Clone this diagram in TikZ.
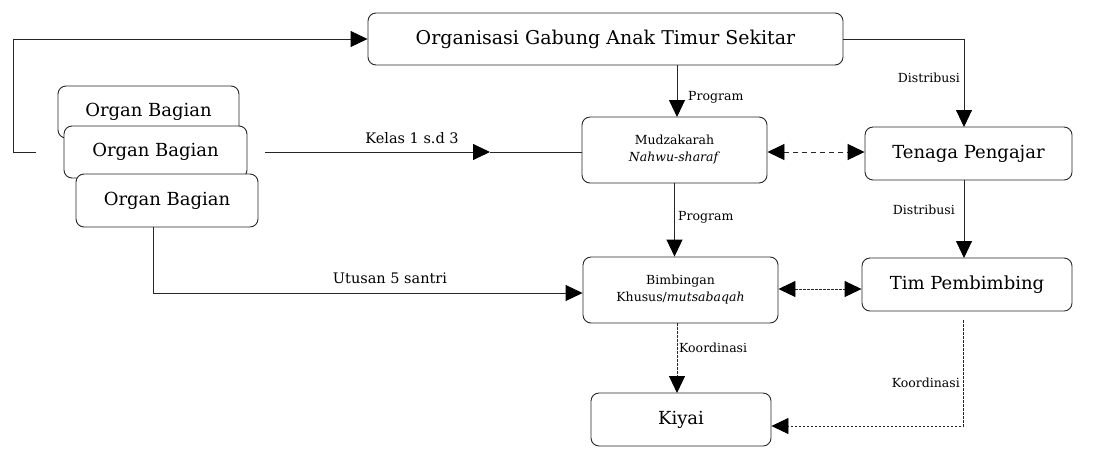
\documentclass[tikz,border=0pt]{standalone}
\usepackage{fontspec}
\setmainfont{DejaVu Serif}
\usetikzlibrary{arrows.meta}
\begin{document}
\begin{tikzpicture}[x=1pt,y=-1pt,
  box/.style={draw=black!85,line width=0.9pt,rounded corners=8pt,fill=white,inner sep=0pt,align=center},
  big/.style={font=\fontsize{18}{21}\selectfont},
  small/.style={font=\fontsize{12.5}{17}\selectfont},
  lab/.style={font=\fontsize{12.5}{14}\selectfont,inner sep=0pt},
  midlab/.style={font=\fontsize{14.5}{16}\selectfont,inner sep=0pt},
  con/.style={draw=black!85,line width=0.9pt},
  tip/.style={Triangle[length=17pt,width=16pt,color=black]},
  arr/.style={con,-{Triangle[length=17pt,width=16pt,color=black]}},
  darr/.style={con,{Triangle[length=17pt,width=16pt,color=black]}-{Triangle[length=17pt,width=16pt,color=black]}},
  dashA/.style={dash pattern=on 5pt off 4pt},
  dashB/.style={dash pattern=on 2.5pt off 1.5pt}]
\useasboundingbox (0,0) rectangle (1094,448);

\node[box,font=\fontsize{19}{22}\selectfont,minimum width=475pt,minimum height=52pt] (org) at (605.5,39) {Organisasi Gabung Anak Timur Sekitar};
\node[box,big,minimum width=181pt,minimum height=52pt] (ob1) at (148.5,112) {Organ Bagian};
\node[box,big,minimum width=183pt,minimum height=52pt] (ob2) at (155.5,152) {Organ Bagian};
\node[box,big,minimum width=182pt,minimum height=53pt] (ob3) at (167,200.5) {Organ Bagian};
\node[box,small,minimum width=185pt,minimum height=66pt] (mudz) at (674.5,150) {Mudzakarah\\\textit{Nahwu-sharaf}};
\node[box,big,minimum width=207pt,minimum height=53pt] (ten) at (968.5,153.5) {Tenaga Pengajar};
\node[box,small,minimum width=195pt,minimum height=66pt] (bimb) at (680.5,290) {Bimbingan\\Khusus/\textit{mutsabaqah}};
\node[box,big,minimum width=210pt,minimum height=53pt] (tim) at (967,284.5) {Tim Pembimbing};
\node[box,big,minimum width=180pt,minimum height=53pt] (kiyai) at (681,419.5) {Kiyai};

% left feedback loop
\coordinate (lp) at (36,152);
\draw[arr] (lp) -- ++(-23,0) |- (org.west);

% Org -> Mudzakarah
\draw[arr] (org.south -| 677,0) -- (677,117);
\node[lab,anchor=west] (lprog1) at (688,97) {Program};

% Org -> Tenaga
\draw[arr] (org.east) -| (964,127);
\node[lab,anchor=east] (ldist1) at (960,78) {Distribusi};

% Organ Bagian 2 -> Mudzakarah
\coordinate (k0) at (265,152);
\coordinate (kmid) at (490,152);
\draw[arr] (k0) -- (kmid);
\draw[con] (kmid) -- (mudz.west |- kmid);
\node[midlab] (lkelas) at (412,138) {Kelas 1 s.d 3};

% Mudzakarah <-> Tenaga
\draw[darr,dashA] (mudz.east |- 0,152) -- (ten.west |- 0,152);

% Mudzakarah -> Bimbingan
\draw[arr] (mudz.south) -- (mudz.south |- bimb.north);
\node[lab,anchor=west] (lprog2) at (678,217) {Program};

% Tenaga -> Tim
\draw[arr] (964,180) -- (964,258);
\node[lab,anchor=east] (ldist2) at (955,210) {Distribusi};

% Organ Bagian 3 -> Bimbingan
\draw[arr] (153,227) |- (bimb.west |- 0,293);
\node[midlab] (lutus) at (390,278) {Utusan 5 santri};

% Bimbingan <-> Tim
\draw[darr,dashB] (bimb.east |- 0,289) -- (tim.west |- 0,289);

% Bimbingan -> Kiyai
\draw[arr,dashB] (677,323) -- (677,393);
\node[lab,anchor=west] (lkoor1) at (679,348) {Koordinasi};

% Tim -> Kiyai
\coordinate (tk) at (963,320);
\draw[arr,dashB] (tk) |- (kiyai.east |- 0,426);
\node[lab,anchor=east] (lkoor2) at (960,383) {Koordinasi};
\end{tikzpicture}
\end{document}
